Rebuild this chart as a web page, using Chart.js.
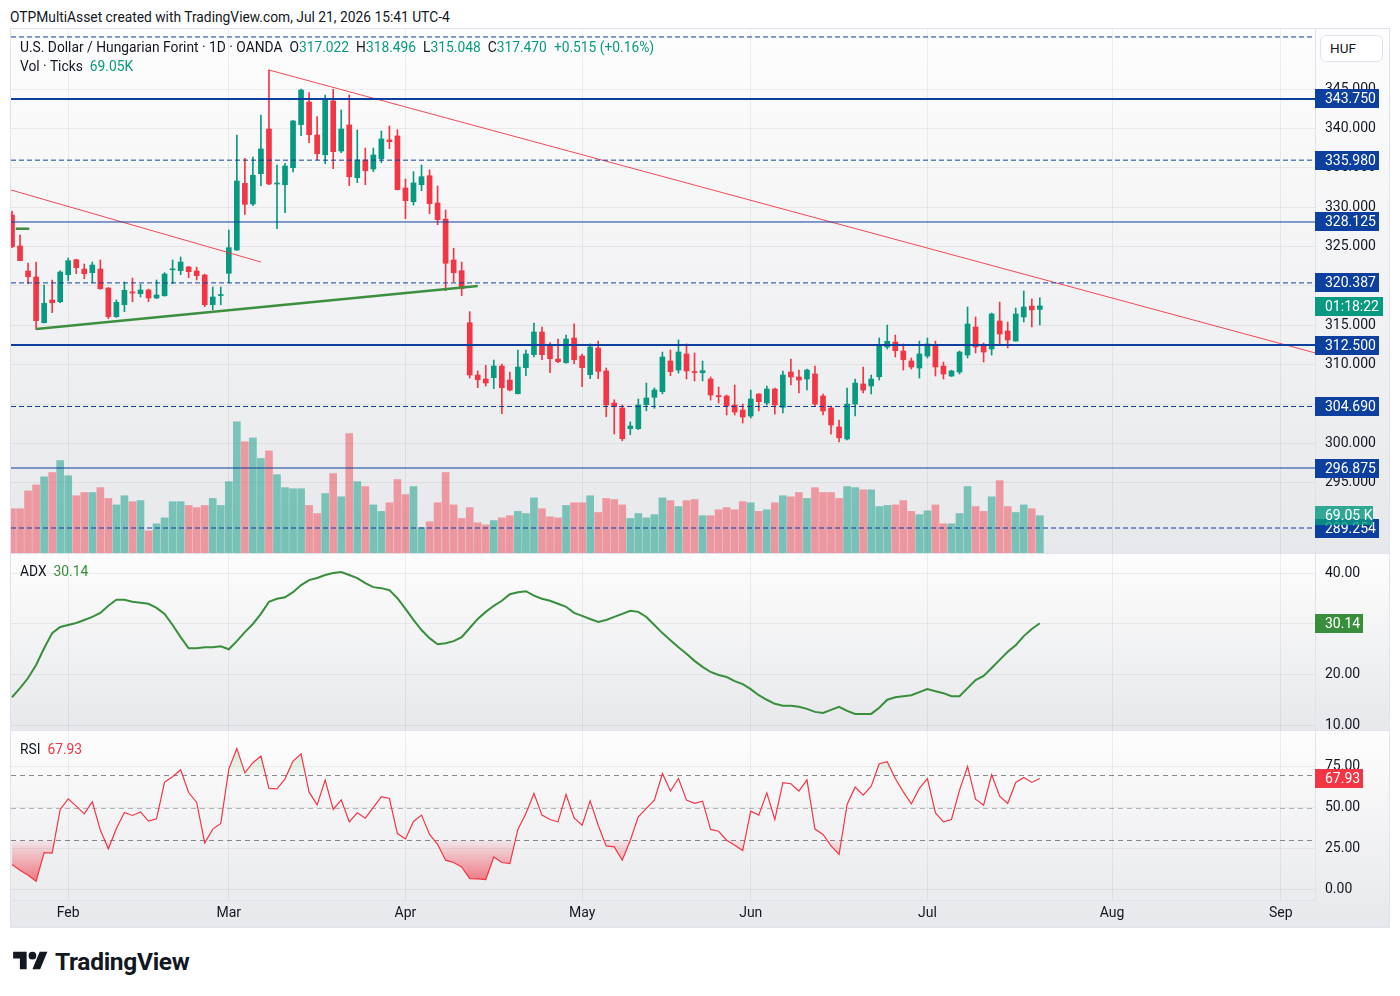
<!DOCTYPE html>
<html>
<head>
<meta charset="utf-8">
<title>USD/HUF 1D</title>
<script src="https://cdn.jsdelivr.net/npm/chart.js@4.4.1/dist/chart.umd.min.js"></script>
<style>
  body { margin: 0; background: #fff; font-family: Roboto, "Noto Sans", sans-serif; color: #131722; }
  #wrap { position: relative; width: 1400px; height: 996px; overflow: hidden; }
  #bgframe { position: absolute; left: 10px; top: 28px; width: 1380px; height: 900px; background: #e0e3eb; }
  #frame { position: absolute; left: 10px; top: 28px; width: 1378px; height: 898px; border: 1px solid #e0e3eb; pointer-events: none; }
  canvas { position: absolute; left: 10px; }
  .t { position: absolute; font-size: 13.8px; line-height: 16px; white-space: nowrap; }
  .g { color: #089981; }
  .sp { margin-left: 7px; }
  #huf { position: absolute; left: 1320px; top: 35px; width: 63px; height: 27px; background: #fff; border: 1px solid #e0e3eb; border-radius: 6px; box-sizing: border-box; font-size: 13.5px; line-height: 25px; padding-left: 9px; }
  #logo { position: absolute; left: 13px; top: 948px; }
  #brand { position: absolute; left: 55px; top: 947px; font-size: 24.5px; font-weight: 700; line-height: 30px; letter-spacing: -0.3px; }
</style>
</head>
<body>
<div id="wrap">
  <div class="t" style="left:10px;top:9px">OTPMultiAsset created with TradingView.com, Jul 21, 2026 15:41 UTC-4</div>
  <div id="bgframe"></div>
  <canvas id="cPrice" width="1380" height="524" style="top:29px"></canvas>
  <canvas id="cAdx" width="1380" height="176" style="top:554px"></canvas>
  <canvas id="cRsi" width="1380" height="196" style="top:731px"></canvas>
  <div id="frame"></div>
  <div class="t" style="left:20px;top:39px">U.S. Dollar / Hungarian Forint · 1D · OANDA<span class="sp">O<span class="g">317.022</span></span><span class="sp">H<span class="g">318.496</span></span><span class="sp">L<span class="g">315.048</span></span><span class="sp">C<span class="g">317.470</span></span><span class="sp g">+0.515 (+0.16%)</span></div>
  <div class="t" style="left:20px;top:58px">Vol · Ticks<span class="sp g">69.05K</span></div>
  <div id="huf">HUF</div>
  <div class="t" style="left:20px;top:563px">ADX<span class="sp" style="color:#388e3c">30.14</span></div>
  <div class="t" style="left:20px;top:741px">RSI<span class="sp" style="color:#f23645">67.93</span></div>
  <svg id="logo" width="35" height="27" viewBox="0 0 36 28"><path d="M14 22H7V11H0V4h14v18zM28 22h-8l7.5-18h8L28 22z" fill="#131722"/><circle cx="20" cy="8" r="4" fill="#131722"/></svg>
  <div id="brand">TradingView</div>
</div>
<script>
// daily bars, Jan 22 2026 .. Jul 21 2026 (weekdays only), index = bar number
const opens = [329.01,325.08,321.90,321.14,315.33,318.22,318.00,321.43,323.33,322.15,
321.69,322.15,319.74,316.10,317.62,319.25,319.02,319.49,318.47,318.76,
322.05,321.94,322.41,321.90,321.39,317.62,318.78,321.61,324.57,333.04,
330.41,334.26,339.94,332.95,332.86,335.02,340.49,343.37,339.18,336.67,
343.50,337.14,340.45,333.75,336.00,334.86,336.17,338.54,339.05,332.44,
330.70,332.86,334.00,330.54,328.50,323.30,321.94,315.33,308.69,308.18,
308.35,309.83,308.05,306.31,309.62,311.27,314.15,312.50,310.72,310.25,
313.39,311.10,308.73,312.12,309.20,305.13,304.50,301.87,301.87,304.92,
305.86,306.57,310.47,309.32,311.36,309.12,308.98,308.18,306.07,306.02,
304.88,304.24,303.48,306.28,305.13,306.91,304.59,309.07,308.44,308.18,
308.82,306.02,304.50,302.08,300.56,305.00,307.55,307.29,308.47,312.25,
312.88,311.74,310.47,309.58,311.10,312.50,309.83,308.56,309.07,311.23,
314.79,312.50,311.99,315.55,314.28,313.00,316.06,317.45,317.022];
const highs = [329.52,326.47,322.92,323.04,320.12,320.76,321.94,323.55,323.40,322.79,
323.04,323.30,319.80,318.22,320.50,321.00,320.20,319.60,320.76,321.69,
323.30,323.68,322.50,322.40,321.50,319.87,319.87,327.11,339.18,336.22,
336.38,341.72,347.43,335.37,335.58,341.00,345.00,344.55,341.50,344.26,
344.98,342.36,344.26,339.82,337.52,337.52,339.69,340.32,339.85,333.59,
334.52,335.37,334.73,332.70,329.65,324.78,323.04,316.73,309.20,309.92,
310.59,310.09,309.07,311.86,311.86,315.29,314.79,312.80,313.26,313.77,
315.20,311.36,312.66,313.00,309.58,305.55,304.88,302.72,305.64,307.67,
307.04,311.61,311.86,313.14,312.63,311.48,310.47,308.44,307.16,306.15,
307.42,305.00,306.78,306.30,307.29,307.04,309.20,310.72,309.32,309.45,
309.83,306.28,304.75,302.97,307.04,308.18,309.71,308.69,313.39,315.04,
313.77,312.63,310.85,313.00,313.39,313.00,310.34,309.30,311.74,317.33,
316.06,312.75,316.57,317.96,315.42,317.20,319.36,318.34,318.496];
const lows = [324.86,323.20,320.29,314.49,315.30,316.60,317.87,320.67,321.56,320.92,
320.41,319.58,315.84,316.00,316.73,318.00,318.60,318.00,318.40,318.70,
320.29,321.43,321.05,320.76,317.37,316.98,317.62,320.41,324.50,329.10,
330.20,332.74,332.86,327.27,329.30,334.48,339.09,338.20,336.04,335.53,
334.90,336.93,332.74,333.12,332.86,334.52,335.66,337.44,332.20,328.54,
330.28,332.10,329.18,327.78,319.40,320.54,318.76,308.31,307.08,307.29,
306.95,303.77,306.66,306.30,308.60,311.00,310.63,308.98,310.25,310.20,
310.12,307.20,308.22,308.22,303.39,301.19,300.34,301.10,301.74,304.15,
304.46,306.30,308.60,308.94,308.18,307.93,307.93,305.51,305.13,303.61,
303.61,302.59,303.23,304.12,304.88,303.73,303.86,307.42,306.40,306.78,
304.75,303.61,301.19,300.18,300.43,303.48,306.40,306.28,308.05,311.99,
310.98,309.32,309.45,308.31,310.85,308.56,308.18,308.50,308.82,310.85,
311.48,310.34,311.23,312.63,312.12,313.00,315.42,314.79,315.048];
const closes = [324.99,323.21,321.18,315.59,317.80,317.87,321.77,323.21,322.32,321.56,
322.66,319.65,316.10,317.92,319.45,319.10,319.49,318.47,318.85,321.52,
322.15,323.04,321.81,321.30,317.62,318.60,318.85,324.86,333.33,330.37,
334.06,337.40,332.95,333.04,335.24,340.96,344.89,339.22,336.80,343.75,
337.06,339.94,333.88,336.00,334.64,336.64,338.67,338.33,332.23,330.83,
333.08,333.88,330.45,328.42,322.88,321.69,319.65,308.69,308.09,307.67,
309.83,307.08,306.78,309.70,311.36,314.15,311.27,310.76,310.38,313.26,
310.63,309.62,312.25,309.16,304.88,304.66,300.60,302.21,304.88,305.77,
306.78,310.98,309.11,311.61,309.20,309.00,309.24,306.15,305.93,304.75,
303.99,303.35,305.64,305.30,306.91,304.88,308.69,308.44,308.05,309.32,
305.00,304.12,302.34,300.72,305.00,307.67,306.78,308.18,312.37,312.97,
311.78,310.63,309.71,311.36,312.63,309.71,308.82,309.20,311.61,315.17,
312.25,311.61,316.44,313.90,313.14,316.44,317.33,316.955,317.470];
// volume in K ticks
const volumes = [82,82,115,126,141,149,171,143,106,112,
112,121,101,89,106,95,97,41,54,65,
95,95,88,84,88,101,88,132,243,206,
213,175,189,145,121,119,119,88,73,110,
147,104,221,132,123,89,77,93,136,108,
123,47,58,93,149,89,64,84,56,52,
60,65,69,77,73,102,82,67,65,88,
93,93,106,75,101,99,89,64,73,65,
71,102,97,86,97,99,69,69,80,84,
80,95,93,77,80,93,106,104,112,101,
121,112,112,101,123,121,117,117,86,88,
89,97,77,71,78,89,54,54,73,123,
86,77,104,134,86,75,89,82,69.05];
const adx = [15.5,17.3,19.3,21.9,25.2,28.2,29.4,29.8,30.2,30.8,
31.4,32.2,33.6,34.8,34.8,34.4,34.2,34.0,33.2,32.0,
29.8,27.4,25.2,25.2,25.4,25.4,25.6,25.0,26.6,28.4,
30.0,32.0,34.4,35.0,35.3,36.3,37.7,38.7,39.1,39.7,
40.1,40.3,39.7,39.1,38.1,37.3,37.1,36.7,35.1,33.0,
30.8,28.8,27.2,26.0,26.2,26.6,27.4,29.2,31.0,32.4,
33.6,34.6,35.9,36.3,36.5,35.6,35.0,34.6,34.0,33.4,
32.2,31.6,31.0,30.4,30.8,31.4,32.0,32.6,32.4,31.4,
29.8,28.2,26.8,25.4,24.1,22.7,21.5,20.5,19.9,19.5,
18.7,18.1,17.1,15.9,15.0,14.2,13.8,13.8,13.6,13.2,
12.6,12.4,13.0,13.6,12.8,12.2,12.2,12.2,13.4,15.0,
15.5,15.7,15.9,16.5,17.1,16.7,16.3,15.7,15.7,17.3,
18.9,19.7,21.3,22.9,24.5,25.8,27.6,29.0,30.14];
const rsi = [15.0,11.5,8.5,4.8,22.4,22.0,48.9,55.4,50.9,46.2,
53.6,36.2,24.7,37.2,47.0,45.2,47.4,41.7,43.1,65.7,
69.0,73.3,59.3,53.2,28.2,36.8,40.3,73.7,86.4,71.4,
77.6,81.7,61.8,61.6,67.7,78.6,83.1,59.5,51.7,66.9,
48.9,54.8,41.3,46.8,43.5,50.1,56.7,55.6,34.1,30.8,
41.5,45.4,33.5,27.5,17.7,16.3,13.6,6.4,6.2,5.8,
19.7,16.3,15.6,36.6,46.4,58.7,45.4,42.7,41.3,58.1,
43.7,39.2,54.2,39.2,26.5,25.9,17.7,30.0,44.4,49.5,
54.6,71.0,60.2,67.9,54.6,52.6,54.0,36.6,35.5,30.0,
26.9,23.6,47.8,45.4,59.1,42.7,65.3,64.7,60.2,67.1,
36.8,33.5,26.5,21.2,52.0,62.6,57.7,63.2,77.0,78.2,
67.9,59.7,52.4,61.8,67.9,46.8,41.3,42.7,60.8,75.3,
55.2,51.5,70.2,57.1,52.6,65.5,68.6,65.5,67.93];

// time axis: bar index of first trading day of each month
const monthIdx = [7, 27, 49, 71, 92, 114, 137, 158];
const monthNames = ['Feb', 'Mar', 'Apr', 'May', 'Jun', 'Jul', 'Aug', 'Sep'];
const priceTicks = [295, 300, 305, 310, 315, 320, 325, 330, 335, 340, 345];
const adxTicks = [10, 20, 30, 40];
const rsiTicks = [0, 25, 50, 75];
const rsiBands = [70, 50, 30];

// horizontal levels drawn on the chart
const levels = [351.63, 343.75, 335.98, 328.125, 320.387, 312.5, 304.69, 296.875, 289.254];
// trend lines: [barIndex, price] pairs
const trendLines = [
  [[32, 347.43], [162.3, 311.49]],
  [[-0.12, 332.19], [31.0, 323.04]],
  [[3, 314.53], [58, 320.0]],
  [[0.46, 327.27], [2.15, 327.27]]
];

// ---- styles ----
const FONT = 'Roboto, "Noto Sans", sans-serif';
const UP = '#089981', DN = '#f23645';
const NAVY = '#0d3f9f';
const GRID = 'rgba(42,46,57,0.07)';
const levelStyle = [
  {w: 1, dash: true, tag: false}, {w: 2, dash: false, tag: true}, {w: 1, dash: true, tag: true},
  {w: 1, dash: false, tag: true}, {w: 1, dash: true, tag: true}, {w: 2, dash: false, tag: true},
  {w: 1, dash: true, tag: true}, {w: 1, dash: false, tag: true}, {w: 1, dash: true, tag: true}
];
const trendStyle = [
  {color: 'rgba(242,54,69,0.9)', w: 1}, {color: 'rgba(242,54,69,0.9)', w: 1},
  {color: '#3b8f3f', w: 2.5}, {color: '#3b8f3f', w: 2.5}
];
const xMin = -0.125, xMax = 162.27;
const last = closes.length - 1;
const isUp = i => closes[i] >= opens[i];

const bgPlugin = {
  id: 'bg',
  beforeDraw(chart) {
    const c = chart.ctx;
    const g = c.createLinearGradient(0, 0, 0, chart.height);
    g.addColorStop(0, '#fdfdfd');
    g.addColorStop(1, '#e7e8eb');
    c.save();
    c.fillStyle = g;
    c.fillRect(0, 0, chart.width, chart.height);
    c.restore();
  }
};

function tag(chart, y, text, bg, w) {
  const c = chart.ctx, x = chart.chartArea.right;
  const top = Math.round(y - 9.5);
  c.save();
  c.fillStyle = bg;
  c.fillRect(x, top, w, 19);
  c.fillStyle = '#ffffff';
  c.font = '14px ' + FONT;
  c.textBaseline = 'middle';
  c.fillText(text, x + 10, top + 10);
  c.restore();
}

function xAxis(show) {
  return {
    type: 'linear', min: xMin, max: xMax, offset: false,
    afterBuildTicks: s => { s.ticks = monthIdx.map(v => ({value: v})); },
    afterFit: s => { s.height = show ? 27 : 0; s.paddingLeft = 0; s.paddingRight = 0; },
    grid: {color: GRID, drawTicks: false, offset: false},
    border: {display: show, color: '#e0e3eb'},
    ticks: {
      display: show, autoSkip: false, maxRotation: 0, padding: 5,
      color: '#131722', font: {family: FONT, size: 14},
      callback: v => monthNames[monthIdx.indexOf(v)]
    }
  };
}

function yAxis(min, max, ticks, digits) {
  return {
    position: 'right', min: min, max: max, beginAtZero: false,
    afterBuildTicks: s => { s.ticks = ticks.map(v => ({value: v})); },
    afterFit: s => { s.width = 75; s.paddingTop = 0; s.paddingBottom = 0; },
    grid: {color: GRID, drawTicks: false},
    border: {display: true, color: '#e0e3eb'},
    ticks: {padding: 10, color: '#131722', font: {family: FONT, size: 14}, callback: v => v.toFixed(digits)}
  };
}

const baseOpts = {
  responsive: false, animation: false, devicePixelRatio: 1,
  layout: {padding: {left: 1, right: 0, top: 0, bottom: 0}, autoPadding: false},
  plugins: {legend: {display: false}, tooltip: {enabled: false}}
};

// ---- price pane ----
const levelSets = levels.map((v, k) => ({
  type: 'line', yAxisID: 'y', order: 0,
  data: [{x: xMin, y: v}, {x: xMax, y: v}],
  borderColor: NAVY, borderWidth: levelStyle[k].w,
  borderDash: levelStyle[k].dash ? [5, 3] : [],
  pointRadius: 0
}));
const trendSets = trendLines.map((pts, k) => ({
  type: 'line', yAxisID: 'y', order: 0,
  data: pts.map(p => ({x: p[0], y: p[1]})),
  borderColor: trendStyle[k].color, borderWidth: trendStyle[k].w,
  pointRadius: 0
}));

new Chart(document.getElementById('cPrice'), {
  type: 'bar',
  data: {
    datasets: [
      ...levelSets,
      ...trendSets,
      {
        type: 'bar', yAxisID: 'y', order: 1, grouped: false, barThickness: 5, minBarLength: 1,
        data: opens.map((o, i) => ({x: i, y: [o, closes[i]]})),
        backgroundColor: ctx => isUp(ctx.dataIndex) ? UP : DN
      },
      {
        type: 'bar', yAxisID: 'y', order: 2, grouped: false, barThickness: 1,
        data: lows.map((l, i) => ({x: i, y: [l, highs[i]]})),
        backgroundColor: ctx => isUp(ctx.dataIndex) ? UP : DN
      },
      {
        type: 'bar', yAxisID: 'yv', order: 3, grouped: false, barThickness: 7,
        data: volumes.map((v, i) => ({x: i, y: v})),
        backgroundColor: ctx => isUp(ctx.dataIndex) ? 'rgba(8,153,129,0.5)' : 'rgba(242,54,69,0.45)'
      }
    ]
  },
  options: {
    ...baseOpts,
    scales: {
      x: xAxis(false),
      y: yAxis(286.08, 352.64, priceTicks, 3),
      yv: {display: false, min: 0, max: 970}
    }
  },
  plugins: [bgPlugin, {
    id: 'tags',
    afterDraw(chart) {
      const y = chart.scales.y;
      levels.forEach((v, k) => {
        if (levelStyle[k].tag) tag(chart, y.getPixelForValue(v), v.toFixed(3), NAVY, 64);
      });
      tag(chart, y.getPixelForValue(closes[last]) + 1, '01:18:22', UP, 68);
      tag(chart, chart.scales.yv.getPixelForValue(volumes[last]), '69.05 K', 'rgba(8,153,129,0.82)', 58);
    }
  }]
});

// ---- ADX pane ----
new Chart(document.getElementById('cAdx'), {
  type: 'line',
  data: {
    datasets: [{
      data: adx.map((v, i) => ({x: i, y: v})),
      borderColor: '#388e3c', borderWidth: 2, pointRadius: 0, tension: 0
    }]
  },
  options: {
    ...baseOpts,
    scales: {x: xAxis(false), y: yAxis(9.01, 43.86, adxTicks, 2)}
  },
  plugins: [bgPlugin, {
    id: 'adxTag',
    afterDraw(chart) {
      tag(chart, chart.scales.y.getPixelForValue(adx[last]), adx[last].toFixed(2), '#388e3c', 48);
    }
  }]
});

// ---- RSI pane ----
function rsiFill(chart, hi) {
  const area = chart.chartArea;
  if (!area) return 'rgba(0,0,0,0)';
  const y = chart.scales.y;
  const g = chart.ctx.createLinearGradient(0, y.getPixelForValue(hi ? 95 : 0), 0, y.getPixelForValue(hi ? 70 : 30));
  if (hi) {
    g.addColorStop(0, 'rgba(76,175,80,0.35)');
    g.addColorStop(1, 'rgba(76,175,80,0.04)');
  } else {
    g.addColorStop(0, 'rgba(242,54,69,0.75)');
    g.addColorStop(1, 'rgba(242,54,69,0.06)');
  }
  return g;
}
const rsiPts = rsi.map((v, i) => ({x: i, y: v}));

new Chart(document.getElementById('cRsi'), {
  type: 'line',
  data: {
    datasets: [
      {
        data: rsiPts, borderColor: DN, borderWidth: 1.2, pointRadius: 0, tension: 0, order: 0
      },
      {
        data: rsiPts, borderWidth: 0, pointRadius: 0, order: 1,
        backgroundColor: ctx => rsiFill(ctx.chart, true),
        fill: {target: {value: 70}, below: 'rgba(0,0,0,0)'}
      },
      {
        data: rsiPts, borderWidth: 0, pointRadius: 0, order: 2,
        backgroundColor: ctx => rsiFill(ctx.chart, false),
        fill: {target: {value: 30}, above: 'rgba(0,0,0,0)'}
      }
    ]
  },
  options: {
    ...baseOpts,
    scales: {x: xAxis(true), y: yAxis(-6.76, 97.1, rsiTicks, 2)}
  },
  plugins: [bgPlugin, {
    id: 'bands',
    beforeDatasetsDraw(chart) {
      const c = chart.ctx, a = chart.chartArea, y = chart.scales.y;
      c.save();
      c.lineWidth = 1;
      c.setLineDash([5, 4]);
      rsiBands.forEach(b => {
        const py = Math.round(y.getPixelForValue(b)) + 0.5;
        c.strokeStyle = b === 50 ? 'rgba(120,123,134,0.55)' : 'rgba(120,123,134,0.9)';
        c.beginPath();
        c.moveTo(a.left, py);
        c.lineTo(a.right, py);
        c.stroke();
      });
      c.restore();
    },
    afterDraw(chart) {
      tag(chart, chart.scales.y.getPixelForValue(rsi[last]), rsi[last].toFixed(2), DN, 48);
    }
  }]
});
</script>
</body>
</html>
